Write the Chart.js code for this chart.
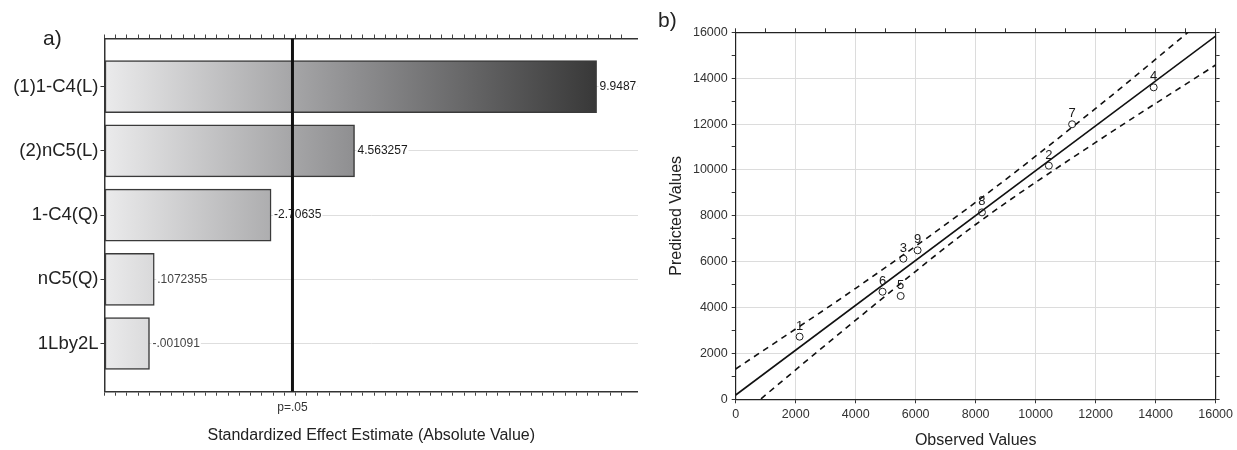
<!DOCTYPE html>
<html>
<head>
<meta charset="utf-8">
<script src="https://cdn.jsdelivr.net/npm/chart.js@4.4.1/dist/chart.umd.min.js"></script>
<style>
  body { margin: 0; background: #fff; font-family: "Liberation Sans", Arial, sans-serif; }
  #wrap { position: relative; width: 1237px; height: 450px; overflow: hidden; }
  canvas { position: absolute; top: 0; }
  .tag { position: absolute; font-size: 21px; line-height: 21px; color: #222; z-index: 2; }
</style>
</head>
<body>
<div id="wrap">
  <canvas id="pareto" width="638" height="450" style="left:0"></canvas>
  <canvas id="fit" width="599" height="450" style="left:638px"></canvas>
  <div class="tag" style="left:43px; top:27px">a)</div>
  <div class="tag" style="left:658px; top:9px">b)</div>
</div>
<script>
// a) pareto of standardized effects
const FACTORS = ['(1)1-C4(L)', '(2)nC5(L)', '1-C4(Q)', 'nC5(Q)', '1Lby2L'];
const EFFECTS = [9.9487, 4.563257, -2.70635, 0.1072355, -0.001091];
const EFFECT_TEXT = ['9.9487', '4.563257', '-2.70635', '.1072355', '-.001091'];
const P_CRIT = 3.182;
const X_MIN = -1;
const X_MAX = 10.87;

// b) observed vs predicted
const RUNS = ['1', '2', '3', '4', '5', '6', '7', '8', '9'];
const OBSERVED = [2130, 10440, 5590, 13935, 5500, 4895, 11215, 8210, 6065];
const PREDICTED = [2730, 10185, 6130, 13600, 4505, 4690, 11990, 8150, 6495];
const FIT_X = [0, 16000];
const FIT_Y = [187, 15838];
const BAND_X = [0, 4000, 8000, 12000, 16000];
const BAND_UPPER = [1321, 4840, 8590, 12680, 17000];
const BAND_LOWER = [-900, 3450, 7620, 11200, 14574];

const FONT = '"Liberation Sans", Arial, sans-serif';
Chart.defaults.font.family = FONT;
Chart.defaults.color = '#333';

const barLabels = {
  id: 'barLabels',
  afterDatasetDraw(chart, args) {
    if (args.index !== 0) return;
    const ctx = chart.ctx;
    ctx.save();
    ctx.font = '12px ' + FONT;
    ctx.textBaseline = 'middle';
    args.meta.data.forEach((bar, i) => {
      const w = ctx.measureText(EFFECT_TEXT[i]).width;
      ctx.fillStyle = '#fff';
      ctx.fillRect(bar.x + 2, bar.y - 7, w + 2, 14);
      ctx.fillStyle = i < 3 ? '#1a1a1a' : '#444';
      ctx.fillText(EFFECT_TEXT[i], bar.x + 3, bar.y);
    });
    ctx.restore();
  }
};

function fixSize(w, h) {
  return (scale) => {
    if (w != null) scale.width = w;
    if (h != null) scale.height = h;
  };
}

new Chart(document.getElementById('pareto'), {
  type: 'bar',
  data: {
    datasets: [{
      data: EFFECTS.map((v, i) => ({ x: Math.abs(v), y: i + 1 })),
      base: X_MIN,
      barThickness: 52,
      borderColor: '#3a3a3a',
      borderWidth: 1.5,
      borderSkipped: false,
      order: 1,
      backgroundColor: (c) => {
        const chart = c.chart;
        if (!chart.chartArea) return '#aaa';
        const xs = chart.scales.x;
        const g = chart.ctx.createLinearGradient(xs.getPixelForValue(X_MIN), 0, xs.getPixelForValue(Math.max(...EFFECTS)), 0);
        g.addColorStop(0, '#ebebec');
        g.addColorStop(0.5, '#909092');
        g.addColorStop(1, '#383838');
        return g;
      }
    }, {
      type: 'line',
      data: [{ x: P_CRIT, y: 0.25 }, { x: P_CRIT, y: 5.75 }],
      borderColor: '#111',
      borderWidth: 3,
      pointRadius: 0,
      order: 0
    }]
  },
  options: {
    indexAxis: 'y',
    responsive: false,
    animation: false,
    layout: { padding: { left: 0, right: 0, top: 0, bottom: 0 } },
    plugins: { legend: { display: false }, tooltip: { enabled: false } },
    scales: {
      x: {
        type: 'linear', position: 'bottom', min: X_MIN, max: X_MAX, weight: 0,
        ticks: { display: false, stepSize: 0.25 },
        grid: { drawOnChartArea: false, tickLength: 4, tickColor: '#444' },
        border: { color: '#333', width: 1.5 },
        afterFit: fixSize(null, 6)
      },
      xp: {
        type: 'linear', position: 'bottom', min: X_MIN, max: X_MAX, weight: 1,
        afterBuildTicks: (s) => { s.ticks = [{ value: P_CRIT }]; },
        ticks: { callback: () => 'p=.05', font: { size: 12 }, color: '#333', padding: 3, maxRotation: 0 },
        grid: { display: false, drawTicks: false },
        border: { display: false },
        title: {
          display: true, text: 'Standardized Effect Estimate (Absolute Value)',
          font: { size: 16 }, color: '#222', padding: { top: 0, bottom: 5 }
        },
        afterFit: fixSize(null, 52.3)
      },
      xTop: {
        type: 'linear', position: 'top', min: X_MIN, max: X_MAX,
        ticks: { display: false, stepSize: 0.25 },
        grid: { drawOnChartArea: false, tickLength: 4, tickColor: '#444' },
        border: { color: '#333', width: 1.5 },
        afterFit: fixSize(null, 38.5)
      },
      y: {
        type: 'linear', reverse: true, min: 0.25, max: 5.75, offset: false,
        afterBuildTicks: (s) => { s.ticks = FACTORS.map((_, i) => ({ value: i + 1 })); },
        ticks: { callback: (v) => FACTORS[v - 1], font: { size: 18.5 }, color: '#222', padding: 2 },
        grid: { offset: false, color: '#dedede', tickLength: 4, tickColor: '#333' },
        border: { color: '#333', width: 1.5 },
        afterFit: fixSize(104.5, null)
      }
    }
  },
  plugins: [barLabels]
});

const runLabels = {
  id: 'runLabels',
  afterDatasetsDraw(chart) {
    const meta = chart.getDatasetMeta(3);
    const ctx = chart.ctx;
    ctx.save();
    ctx.font = '13px ' + FONT;
    ctx.fillStyle = '#1a1a1a';
    ctx.textAlign = 'center';
    ctx.textBaseline = 'bottom';
    meta.data.forEach((pt, i) => ctx.fillText(RUNS[i], pt.x, pt.y - 4));
    ctx.restore();
  }
};

const toXY = (xs, ys) => xs.map((x, i) => ({ x, y: ys[i] }));
const gridEvery2000 = (c) => (c.tick && c.tick.value % 2000 === 0 ? '#dcdcdc' : 'rgba(0,0,0,0)');
const axisTicks = { stepSize: 1000, font: { size: 12.5 }, color: '#333', padding: 4,
  callback: (v) => (v % 2000 === 0 ? String(v) : '') };

new Chart(document.getElementById('fit'), {
  type: 'scatter',
  data: {
    datasets: [{
      data: toXY(FIT_X, FIT_Y), showLine: true, borderColor: '#111', borderWidth: 1.6, pointRadius: 0
    }, {
      data: toXY(BAND_X, BAND_UPPER), showLine: true, borderColor: '#111', borderWidth: 1.6,
      borderDash: [6, 5], pointRadius: 0, cubicInterpolationMode: 'monotone'
    }, {
      data: toXY(BAND_X, BAND_LOWER), showLine: true, borderColor: '#111', borderWidth: 1.6,
      borderDash: [6, 5], pointRadius: 0, cubicInterpolationMode: 'monotone'
    }, {
      data: toXY(OBSERVED, PREDICTED), pointRadius: 3.5, pointBorderWidth: 1,
      borderColor: '#222', backgroundColor: '#fff'
    }]
  },
  options: {
    responsive: false,
    animation: false,
    layout: { padding: { left: 0, right: 14.7, top: 0, bottom: 0 } },
    plugins: { legend: { display: false }, tooltip: { enabled: false } },
    scales: {
      x: {
        type: 'linear', position: 'bottom', min: 0, max: 16000,
        ticks: Object.assign({ maxRotation: 0 }, axisTicks),
        grid: { color: gridEvery2000, tickLength: 4, tickColor: '#333' },
        border: { color: '#222', width: 1.2 },
        title: { display: true, text: 'Observed Values', font: { size: 16 }, color: '#222', padding: { top: 0, bottom: 0 } },
        afterFit: fixSize(null, 50.7)
      },
      y: {
        type: 'linear', position: 'left', min: 0, max: 16000,
        ticks: axisTicks,
        grid: { color: gridEvery2000, tickLength: 4, tickColor: '#333' },
        border: { color: '#222', width: 1.2 },
        title: { display: true, text: 'Predicted Values', font: { size: 16 }, color: '#222', padding: { top: 29.4, bottom: 0 } },
        afterFit: fixSize(97.7, null)
      },
      xTop: {
        type: 'linear', position: 'top', min: 0, max: 16000,
        ticks: { display: false, stepSize: 1000 },
        grid: { drawOnChartArea: false, tickLength: 4, tickColor: '#333' },
        border: { color: '#222', width: 1.2 },
        afterFit: fixSize(null, 32.3)
      },
      yRight: {
        type: 'linear', position: 'right', min: 0, max: 16000,
        ticks: { display: false, stepSize: 1000 },
        grid: { drawOnChartArea: false, tickLength: 4, tickColor: '#333' },
        border: { color: '#222', width: 1.2 },
        afterFit: fixSize(4, null)
      }
    }
  },
  plugins: [runLabels]
});
</script>
</body>
</html>
